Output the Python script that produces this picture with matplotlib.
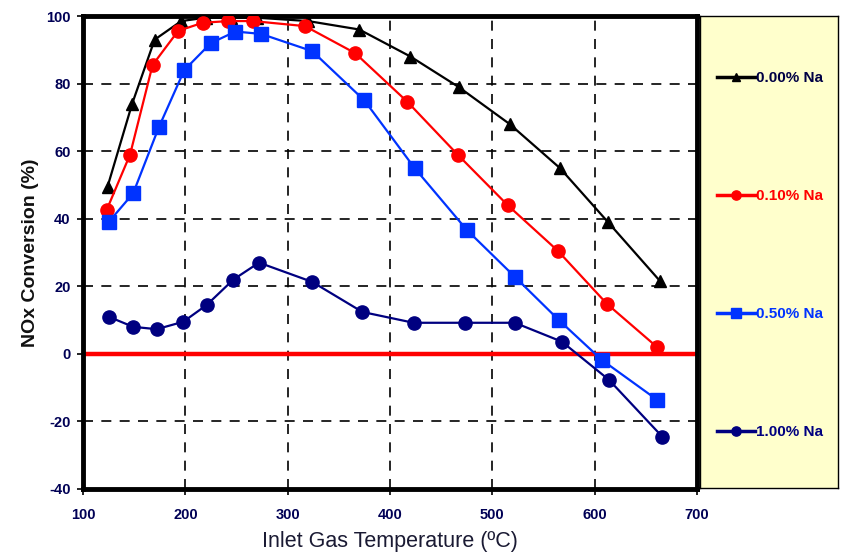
import matplotlib
matplotlib.use("Agg")
import matplotlib.pyplot as plt

plt.rcParams['font.family'] = ['Liberation Sans', 'DejaVu Sans']
plt.rcParams['axes.unicode_minus'] = False

# temperatures (C) and NOx conversion (%) for each Na loading
temp_000 = [124, 148, 170, 196, 220, 245, 270, 320, 370, 420, 467, 517, 566, 613, 664]
conv_000 = [49.5, 74, 93, 98.5, 99.5, 99.5, 99.5, 98.5, 96, 88, 79, 68, 55, 39, 21.5]

temp_010 = [123, 146, 168, 193, 217, 242, 266, 317, 366, 417, 466, 515, 564, 612, 661]
conv_010 = [42.5, 59, 85.5, 95.6, 98, 98.5, 98.5, 97, 89, 74.6, 59, 44, 30.5, 14.8, 2]

temp_050 = [125, 149, 174, 199, 225, 249, 274, 324, 375, 424, 475, 522, 565, 607, 661]
conv_050 = [39, 47.5, 67, 84, 92, 95.4, 94.7, 89.6, 75, 55, 36.7, 22.8, 10, -1.8, -13.6]

temp_100 = [125, 149, 172, 198, 221, 247, 272, 324, 373, 423, 473, 522, 568, 614, 666]
conv_100 = [11, 8, 7.3, 9.5, 14.5, 22, 27, 21.3, 12.4, 9.2, 9.2, 9.2, 3.6, -7.7, -24.5]

labels = ['0.00% Na', '0.10% Na', '0.50% Na', '1.00% Na']
colors = ['black', '#ff0000', '#0033ff', '#000080']
markers = ['^', 'o', 's', 'o']
sizes = [9, 9.5, 9.5, 9.5]

fig = plt.figure(figsize=(8.41, 5.55), dpi=100)
ax = fig.add_axes([83 / 841, 66 / 555, 614 / 841, 473 / 555])

series = [(temp_000, conv_000), (temp_010, conv_010),
          (temp_050, conv_050), (temp_100, conv_100)]
handles = []
for (t, c), lab, col, mk, ms in zip(series, labels, colors, markers, sizes):
    h, = ax.plot(t, c, color=col, marker=mk, markersize=ms, lw=1.6,
                 label=lab, zorder=3)
    handles.append(h)

# zero reference line
ax.axhline(0, color='#ff0000', lw=3.2, zorder=2)

ax.set_xlim(100, 700)
ax.set_ylim(-40, 100)
ax.set_xticks(range(100, 701, 100))
ax.set_yticks(range(-40, 101, 20))
ax.grid(True, color='black', linestyle=(0, (6, 5)), lw=1.2)
for s in ax.spines.values():
    s.set_linewidth(3.5)
ax.tick_params(direction='out', length=4, width=1.2,
               labelsize=10.5, labelcolor='#000055')
ax.tick_params(axis='x', pad=10)
ax.tick_params(axis='y', pad=5)
for lab in ax.get_xticklabels() + ax.get_yticklabels():
    lab.set_fontweight('bold')

ax.set_xlabel('Inlet Gas Temperature (ºC)', fontsize=15.5,
              color='#1a1a33', labelpad=6)
ax.set_ylabel('NOx Conversion (%)', fontsize=14, fontweight='bold',
              color='#111111', labelpad=5)

# legend panel on the right
lax = fig.add_axes([700 / 841, 67 / 555, 138 / 841, 472 / 555])
lax.set_facecolor('#ffffcc')
lax.set_xticks([])
lax.set_yticks([])
for s in lax.spines.values():
    s.set_linewidth(1.0)
leg = lax.legend(handles, labels, loc='center left', bbox_to_anchor=(0.08, 0.493),
                 frameon=False, fontsize=11, labelspacing=6.8, handlelength=2.5,
                 handletextpad=0.05, markerscale=0.7, labelcolor='linecolor',
                 borderaxespad=0)
leg.get_texts()[0].set_color('#000044')
for line in leg.get_lines():
    line.set_linewidth(2.5)
for txt in leg.get_texts():
    txt.set_fontweight('bold')

fig.savefig('out.png', dpi=100)
